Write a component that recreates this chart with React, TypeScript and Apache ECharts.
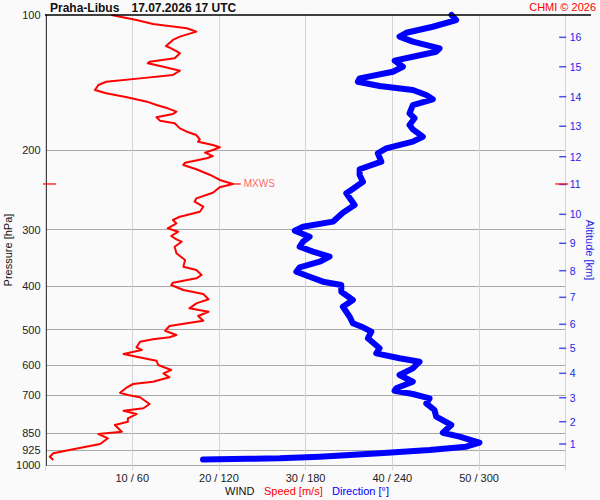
import React, { useEffect, useRef } from "react";
import * as echarts from "echarts";

// ---- axis definitions ----
const pressureLabels = [100, 200, 300, 400, 500, 600, 700, 850, 925, 1000];
const pressureGrid = [200, 300, 400, 500, 600, 700, 850, 925, 1000];
const altitudeKm = [1, 2, 3, 4, 5, 6, 7, 8, 9, 10, 11, 12, 13, 14, 15, 16];
const altitudePressure = [
  898.1, 801.3, 708.7, 625.5, 550.4, 486.8, 424.0, 370.0, 321.6, 277.3, 238.0,
  206.5, 176.7, 151.9, 130.3, 112.1,
];

// ---- wind speed profile [m/s] ----
const speedPressure = [
  100, 102.6, 104.7, 107.0, 108.9, 111.7, 113.6, 117.2, 118.6, 121.6, 124.8, 127.0,
  128.0, 130.3, 133.0, 135.9, 138.3, 140.7, 143.1, 146.8, 149.3, 152.4, 155.8, 158.5,
  161.2, 164.0, 166.0, 168.8, 171.7, 174.0, 178.6, 181.7, 184.8, 188.9, 191.2, 194.5,
  196.8, 199.5, 202.3, 205.8, 208.1, 212.9, 215.4, 220.2, 226.7, 232.6, 237.4, 241.4,
  248.3, 255.5, 260.0, 266.7, 273.6, 280.7, 285.5, 290.4, 297.8, 303.1, 309.8, 315.1,
  319.0, 327.3, 338.5, 350.3, 362.5, 368.7, 378.2, 384.7, 393.4, 398.1, 408.4, 416.9,
  428.3, 437.3, 448.6, 456.4, 466.5, 477.9, 484.3, 491.0, 503.0, 514.2, 520.2, 525.6,
  532.3, 547.6, 555.2, 566.8, 574.5, 586.4, 599.5, 615.0, 625.5, 638.4, 653.0, 660.7,
  672.0, 690.8, 698.9, 707.2, 732.0, 748.1, 757.4, 770.5, 787.4, 801.3, 814.9, 843.3,
  853.3, 872.3, 898.3, 922.8, 942.0, 958.4, 974.7,
];
const speedValues = [
  7.6, 10.5, 12.4, 16.3, 17.4, 15.5, 14.7, 13.9, 14.5, 15.5, 14.9, 12.0,
  11.8, 13.6, 15.5, 14.7, 10.9, 7.0, 6.1, 5.7, 7.0, 9.4, 11.7, 12.8,
  14.1, 15.1, 14.7, 12.8, 13.2, 14.9, 15.5, 16.3, 17.4, 17.8, 17.6, 19.3,
  20.1, 19.3, 18.4, 19.3, 18.6, 16.1, 15.9, 17.4, 19.0, 20.1, 21.6, 20.1,
  19.3, 17.4, 17.2, 18.2, 17.8, 15.5, 14.7, 15.1, 14.1, 15.3, 14.5, 15.1,
  15.7, 14.9, 15.1, 16.1, 15.9, 17.4, 18.0, 17.4, 14.7, 14.5, 15.9, 18.2,
  18.8, 17.4, 16.6, 18.8, 17.6, 18.2, 16.3, 14.3, 13.8, 15.1, 14.3, 12.4,
  10.9, 10.5, 11.1, 9.0, 10.5, 12.8, 13.0, 14.5, 13.6, 14.3, 12.4, 10.1,
  9.4, 8.6, 9.5, 10.9, 12.0, 11.3, 9.0, 10.5, 9.5, 9.5, 8.0, 8.8,
  6.1, 7.2, 6.3, 3.2, 0.9, 0.5, 0.9,
];

// ---- wind direction profile [deg] ----
const dirPressure = [
  100, 102.6, 106.2, 109.5, 111.7, 114.6, 118.6, 120.7, 123.8, 126.3, 130.3, 133.7,
  138.3, 140.7, 143.8, 146.8, 150.6, 153.9, 158.5, 165.4, 169.6, 175.6, 179.5, 186.4,
  191.2, 197.8, 202.9, 211.8, 220.2, 226.7, 234.7, 244.8, 249.0, 264.4, 275.0, 287.9,
  295.4, 301.5, 310.9, 319.0, 327.3, 335.7, 344.4, 353.4, 363.6, 371.9, 381.6, 391.4,
  398.1, 412.0, 429.9, 444.9, 468.2, 484.3, 494.3, 505.6, 523.0, 550.4, 564.7, 579.3,
  589.4, 609.8, 631.0, 653.0, 675.4, 683.7, 695.4, 710.9, 729.3, 754.7, 781.0, 814.9,
  847.7, 865.2, 891.7, 910.6, 926.1, 942.0, 958.4, 966.2, 968.6, 972.0,
];
const dirValues = [
  281, 284.2, 268, 249.7, 245, 254.2, 272.7, 270.4, 254.2, 241.6, 247.3, 240.4,
  217.4, 216.2, 231.2, 254.2, 263.5, 268, 254.2, 251.9, 255.4, 251.9, 254.2, 261.1,
  254.2, 235.8, 230, 232.4, 217.4, 217.4, 219.7, 211.6, 208.2, 213.9, 205.8, 198.9,
  178.2, 172.5, 182.8, 178.2, 175.9, 185.1, 196.6, 189.7, 175.9, 173.6, 182.8, 192,
  204.7, 204.7, 212.7, 205.8, 210.5, 212.7, 219.7, 225.5, 223.1, 231.2, 228.9, 245,
  258.9, 254.2, 245, 254.2, 242.7, 241.6, 254.2, 265.8, 263.5, 269.2, 270.4, 280.8,
  275, 286.5, 300.3, 291.1, 265.8, 231.2, 189.7, 162.1, 140, 109,
];

// maximum wind: [speed m/s, pressure hPa]
const mxws = [21.6, 237.4];

const FONT = "'Liberation Sans', Arial, Helvetica, sans-serif";
const RED = "#ff0000";
const BLUE = "#0000ff";
const AXBLUE = "#2424e8";

export default function App() {
  const ref = useRef<HTMLDivElement>(null);

  useEffect(() => {
    if (!ref.current) return;
    const chart = echarts.init(ref.current, undefined, { renderer: "svg" });

    const altLabel = (v: number) => {
      for (let i = 0; i < altitudePressure.length; i++) {
        if (Math.abs(altitudePressure[i] - v) < 0.6) return String(altitudeKm[i]);
      }
      return "";
    };

    const option: any = {
      animation: false,
      backgroundColor: "#fafafa",
      textStyle: { fontFamily: FONT },
      grid: { left: 45.5, right: 34.3, top: 15, bottom: 35, containLabel: false },
      xAxis: [
        {
          type: "value",
          min: 0,
          max: 60,
          interval: 10,
          position: "bottom",
          axisLine: { show: false },
          axisTick: { show: true, length: 5, lineStyle: { color: "#d4d4d4" } },
          splitLine: { show: true, lineStyle: { color: "#d4d4d4", width: 1 } },
          axisLabel: {
            formatter: (v: number) => (v > 0 && v < 60 ? `${v} / ${v * 6}` : ""),
            color: "#222",
            fontSize: 11,
            margin: 7,
            fontFamily: FONT,
          },
        },
        {
          type: "value",
          min: 0,
          max: 360,
          position: "top",
          show: false,
        },
      ],
      yAxis: [
        {
          type: "log",
          logBase: 10,
          min: 100,
          max: 1000,
          inverse: true,
          position: "left",
          axisLine: { show: true, lineStyle: { color: "#000", width: 1.5 } },
          axisTick: { show: false, customValues: pressureGrid },
          axisLabel: {
            customValues: pressureLabels,
            formatter: (v: number) => String(Math.round(v)),
            color: "#222",
            fontSize: 11,
            margin: 5,
            fontFamily: FONT,
          },
          splitLine: { show: true, lineStyle: { color: "#a8a8a8", width: 1 } },
        },
        {
          type: "log",
          logBase: 10,
          min: 100,
          max: 1000,
          inverse: true,
          position: "right",
          axisLine: { show: true, lineStyle: { color: "#d4d4d4", width: 1 } },
          axisTick: { show: false },
          axisLabel: {
            customValues: altitudePressure,
            formatter: altLabel,
            color: AXBLUE,
            fontSize: 10.5,
            margin: 4,
            fontFamily: FONT,
          },
          splitLine: { show: false },
        },
      ],
      series: [
        {
          type: "line",
          name: "Direction",
          xAxisIndex: 1,
          yAxisIndex: 0,
          data: dirPressure.map((p, i) => [dirValues[i], p]),
          symbol: "none",
          clip: false,
          lineStyle: { color: BLUE, width: 6, cap: "round", join: "round" },
          z: 2,
        },
        {
          type: "line",
          name: "Speed",
          xAxisIndex: 0,
          yAxisIndex: 0,
          data: speedPressure.map((p, i) => [speedValues[i], p]),
          symbol: "none",
          lineStyle: { color: RED, width: 2, join: "round" },
          z: 3,
        },
        {
          type: "scatter",
          name: "AltitudeTicks",
          xAxisIndex: 0,
          yAxisIndex: 1,
          clip: false,
          silent: true,
          data: altitudePressure.map((p) => [60, p]),
          symbol: "rect",
          symbolSize: [7, 1.5],
          symbolOffset: [-3, 0],
          itemStyle: { color: AXBLUE },
          z: 4,
        },
        {
          type: "scatter",
          name: "MXWS",
          xAxisIndex: 0,
          yAxisIndex: 0,
          clip: false,
          silent: true,
          data: [[mxws[0], mxws[1]]],
          symbol: "rect",
          symbolSize: [8, 1.5],
          symbolOffset: [4, 0],
          itemStyle: { color: RED },
          label: {
            show: true,
            position: "right",
            distance: 3,
            formatter: "MXWS",
            color: "#ff3a3a",
            fontSize: 10,
            fontFamily: FONT,
          },
          z: 5,
        },
        {
          type: "scatter",
          name: "MXWS-left",
          xAxisIndex: 0,
          yAxisIndex: 0,
          clip: false,
          silent: true,
          data: [[0, mxws[1]]],
          symbol: "rect",
          symbolSize: [13, 1.5],
          symbolOffset: [4, 0],
          itemStyle: { color: RED },
          z: 5,
        },
        {
          type: "scatter",
          name: "MXWS-right",
          xAxisIndex: 0,
          yAxisIndex: 0,
          clip: false,
          silent: true,
          data: [[60, mxws[1]]],
          symbol: "rect",
          symbolSize: [13, 1.5],
          symbolOffset: [-4, 0],
          itemStyle: { color: RED },
          z: 5,
        },
      ],
      graphic: [
        {
          type: "line",
          shape: { x1: 45, y1: 15, x2: 591, y2: 15 },
          style: { stroke: "#000", lineWidth: 1.5 },
          z: 100,
        },
        {
          type: "text",
          x: 50,
          y: 7.5,
          style: {
            text: "Praha-Libus",
            fill: "#111",
            font: `bold 12px ${FONT}`,
            verticalAlign: "middle",
          },
        },
        {
          type: "text",
          x: 131.5,
          y: 7.5,
          style: {
            text: "17.07.2026 17 UTC",
            fill: "#111",
            font: `bold 12px ${FONT}`,
            verticalAlign: "middle",
          },
        },
        {
          type: "text",
          x: 596,
          y: 7,
          style: {
            text: "CHMI © 2026",
            fill: RED,
            font: `11px ${FONT}`,
            align: "right",
            verticalAlign: "middle",
          },
        },
        {
          type: "text",
          x: 225,
          y: 491,
          style: { text: "WIND", fill: "#111", font: `11px ${FONT}`, verticalAlign: "middle" },
        },
        {
          type: "text",
          x: 264,
          y: 491,
          style: { text: "Speed [m/s]", fill: RED, font: `11px ${FONT}`, verticalAlign: "middle" },
        },
        {
          type: "text",
          x: 332,
          y: 491,
          style: { text: "Direction [°]", fill: BLUE, font: `11px ${FONT}`, verticalAlign: "middle" },
        },
        {
          type: "text",
          x: 8,
          y: 250,
          rotation: Math.PI / 2,
          style: {
            text: "Pressure [hPa]",
            fill: "#111",
            font: `11px ${FONT}`,
            align: "center",
            verticalAlign: "middle",
          },
        },
        {
          type: "text",
          x: 590,
          y: 250,
          rotation: -Math.PI / 2,
          style: {
            text: "Altitude [km]",
            fill: AXBLUE,
            font: `11px ${FONT}`,
            align: "center",
            verticalAlign: "middle",
          },
        },
      ],
    };

    chart.setOption(option);
    return () => chart.dispose();
  }, []);

  return (
    <div
      ref={ref}
      style={{ position: "fixed", left: 0, top: 0, width: 600, height: 500, background: "#fafafa" }}
    />
  );
}
